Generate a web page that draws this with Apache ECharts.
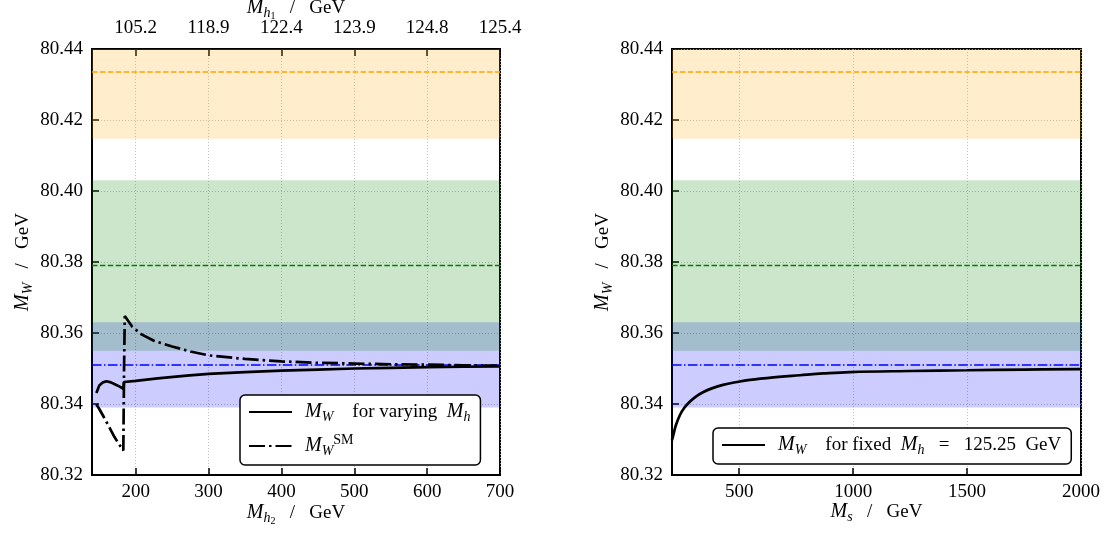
<!DOCTYPE html>
<html>
<head>
<meta charset="utf-8">
<script src="https://cdn.jsdelivr.net/npm/echarts@6/dist/echarts.min.js"></script>
<style>html,body{margin:0;padding:0;background:#fff}#c{width:1106px;height:533px}</style>
</head>
<body>
<div id="c"></div>
<script>
// ---- data ----
const leftXTicks = [200, 300, 400, 500, 600, 700];
const topXTickLabels = ['105.2', '118.9', '122.4', '123.9', '124.8', '125.4'];
const rightXTicks = [500, 1000, 1500, 2000];
const yTicks = [80.32, 80.34, 80.36, 80.38, 80.40, 80.42, 80.44];

const varyX = [146, 150, 155, 160, 166, 172, 178, 183, 184, 200, 230, 270, 300, 350, 400, 450, 500, 550, 600, 650, 700];
const varyY = [80.3431, 80.3452, 80.3461, 80.3464, 80.3461, 80.3455, 80.3449, 80.3443, 80.3462, 80.3465, 80.3472, 80.3480, 80.3485, 80.3490, 80.3494, 80.3497, 80.3500, 80.3502, 80.3504, 80.3505, 80.3506];

const smX = [146, 150, 156, 162, 170, 176, 183, 184, 185, 195, 208, 225, 250, 275, 300, 350, 400, 450, 500, 550, 600, 650, 700];
const smY = [80.3399, 80.3386, 80.3364, 80.3341, 80.3310, 80.3290, 80.3269, 80.3500, 80.3648, 80.3618, 80.3596, 80.3578, 80.3562, 80.3548, 80.3537, 80.3527, 80.3520, 80.3516, 80.3514, 80.3512, 80.3511, 80.3509, 80.3508];

const fixedX = [205, 211, 222, 240, 260, 284, 310, 341, 380, 429, 490, 547, 650, 767, 870, 986, 1250, 1500, 1750, 2000];
const fixedY = [80.3298, 80.3313, 80.3340, 80.3369, 80.3390, 80.3407, 80.3421, 80.3433, 80.3444, 80.3454, 80.3462, 80.3468, 80.3475, 80.3481, 80.3486, 80.3490, 80.3493, 80.3495, 80.3497, 80.3498];

// measurement bands (2 sigma) and central values: SM, ATLAS/avg, CDF
const bandLo = [80.339, 80.355, 80.4147];
const bandHi = [80.363, 80.403, 80.4523];
const bandCentral = [80.351, 80.379, 80.4335];

const LEFT_X_MIN = 140, LEFT_X_MAX = 700;
const RIGHT_X_MIN = 205, RIGHT_X_MAX = 2000;
const Y_MIN = 80.32, Y_MAX = 80.44;

// ---- styling ----
const FONT = 'Liberation Serif';
const FS = 19;
const bandColors = ['rgba(0,0,255,0.2)', 'rgba(0,128,0,0.2)', 'rgba(255,165,0,0.2)'];
const refStyles = [
  {color: '#0000ff', width: 1.5, type: [9.6, 2.4, 1.5, 2.4]},
  {color: '#008000', width: 1.5, type: [5.5, 2.4]},
  {color: '#ffa500', width: 1.5, type: [5.5, 2.4]}
];
const rich = {
  i: {fontFamily: FONT, fontStyle: 'italic', fontSize: 20, color: '#000'},
  r: {fontFamily: FONT, fontSize: FS, color: '#000'},
  sub: {fontFamily: FONT, fontStyle: 'italic', fontSize: 14, color: '#000', padding: [10, 0, 0, 0]},
  sub2: {fontFamily: FONT, fontSize: 10, color: '#000', padding: [16, 0, 0, 0]},
  sup: {fontFamily: FONT, fontSize: 14, color: '#000', padding: [0, 0, 12, 0]}
};
const zip = (xs, ys) => xs.map((x, k) => [x, ys[k]]);

function bandArea() {
  return {
    silent: true,
    data: bandLo.map((lo, k) => [
      {yAxis: lo, itemStyle: {color: bandColors[k]}},
      {yAxis: Math.min(bandHi[k], Y_MAX)}
    ])
  };
}

function refSeries(gi, xmin, xmax) {
  return bandCentral.map((v, k) => ({
    name: 'ref' + gi + k, type: 'line', xAxisIndex: gi, yAxisIndex: gi, silent: true,
    data: [[xmin, v], [xmax, v]], symbol: 'none', lineStyle: refStyles[k], z: 3
  }));
}

const gridLine = {show: true, lineStyle: {color: '#b0b0b0', width: 0.8, type: [1, 2]}};
const tickStyle = {color: '#000', width: 1.5};

function yAxisDef(gridIndex) {
  return {
    type: 'value', gridIndex, min: Y_MIN, max: Y_MAX, interval: 0.02,
    name: '{i|M}{sub|W}{r|   /   GeV}', nameLocation: 'middle', nameGap: 57, nameRotate: 90, nameMoveOverlap: false,
    nameTextStyle: {rich},
    axisLine: {show: true, lineStyle: {color: '#000', width: 2}},
    axisTick: {show: true, inside: true, length: 7, lineStyle: tickStyle},
    axisLabel: {fontFamily: FONT, fontSize: FS, color: '#000', margin: 9, formatter: v => v.toFixed(2)},
    splitLine: gridLine
  };
}

function xAxisDef(gridIndex, min, max, ticks, nameSub) {
  return {
    type: 'value', gridIndex, min, max,
    name: '{i|M}' + nameSub + '{r|   /   GeV}', nameLocation: 'middle', nameGap: 25, nameMoveOverlap: false,
    nameTextStyle: {rich},
    axisLine: {show: true, lineStyle: {color: '#000', width: 2}},
    axisTick: {show: true, inside: true, length: 7, customValues: ticks, lineStyle: tickStyle},
    axisLabel: {fontFamily: FONT, fontSize: FS, color: '#000', margin: 8, customValues: ticks, formatter: v => String(v)},
    splitLine: gridLine
  };
}

const topAxis = {
  type: 'value', gridIndex: 0, position: 'top', min: LEFT_X_MIN, max: LEFT_X_MAX,
  name: '{i|M}{sub|h}{sub2|1}{r|   /   GeV}', nameLocation: 'middle', nameGap: 28, nameMoveOverlap: false,
  nameTextStyle: {rich},
  axisLine: {show: true, lineStyle: {color: '#000', width: 2}},
  axisTick: {show: true, inside: true, length: 7, customValues: leftXTicks, lineStyle: tickStyle},
  axisLabel: {fontFamily: FONT, fontSize: FS, color: '#000', margin: 11, customValues: leftXTicks,
    formatter: v => topXTickLabels[leftXTicks.indexOf(Math.round(v))] || ''},
  splitLine: {show: false}
};

const legendNames = {
  vary: '{i|M}{sub|W}{r|    for varying  }{i|M}{sub|h}',
  sm: '{i|M}{sub|W}{sup|SM}',
  fixed: '{i|M}{sub|W}{r|    for fixed  }{i|M}{sub|h}{r|   =   125.25  GeV}'
};

const legendBase = {
  orient: 'vertical', backgroundColor: '#fff', borderColor: '#000', borderWidth: 1.5, borderRadius: 5,
  itemWidth: 43, itemHeight: 14, itemGap: 9, padding: [7, 10, 7, 8],
  itemStyle: {opacity: 0},
  textStyle: {rich, fontFamily: FONT, fontSize: FS, padding: [0, 0, 0, 8]},
  formatter: n => legendNames[n]
};

const grids = [
  {left: 92, top: 49, width: 408, height: 426},
  {left: 672, top: 49, width: 409, height: 426}
].map(g => Object.assign(g, {show: true, borderColor: '#000', borderWidth: 2, backgroundColor: 'transparent', outerBoundsMode: 'none', containLabel: false}));

const option = {
  animation: false,
  backgroundColor: '#fff',
  grid: grids,
  xAxis: [
    xAxisDef(0, LEFT_X_MIN, LEFT_X_MAX, leftXTicks, '{sub|h}{sub2|2}'),
    xAxisDef(1, RIGHT_X_MIN, RIGHT_X_MAX, rightXTicks, '{sub|s}'),
    topAxis
  ],
  yAxis: [yAxisDef(0), yAxisDef(1)],
  legend: [
    Object.assign({}, legendBase, {left: 240, top: 395, data: ['vary', 'sm']}),
    Object.assign({}, legendBase, {left: 713, top: 428, data: ['fixed']})
  ],
  series: [
    {
      name: 'vary', type: 'line', xAxisIndex: 0, yAxisIndex: 0, data: zip(varyX, varyY),
      symbol: 'none', lineStyle: {color: '#000', width: 2.7}, itemStyle: {color: '#000'}, z: 5,
      markArea: bandArea()
    },
    {
      name: 'sm', type: 'line', xAxisIndex: 0, yAxisIndex: 0, data: zip(smX, smY),
      symbol: 'none', lineStyle: {color: '#000', width: 2.7, type: [16, 4, 2.5, 4]}, itemStyle: {color: '#000'}, z: 5
    },
    {
      name: 'fixed', type: 'line', xAxisIndex: 1, yAxisIndex: 1, data: zip(fixedX, fixedY),
      symbol: 'none', smooth: 0.4,
      lineStyle: {color: '#000', width: 2.7}, itemStyle: {color: '#000'}, z: 5,
      markArea: bandArea()
    }
  ].concat(refSeries(0, LEFT_X_MIN, LEFT_X_MAX), refSeries(1, RIGHT_X_MIN, RIGHT_X_MAX))
};

const chart = echarts.init(document.getElementById('c'), null, {renderer: 'canvas'});
chart.setOption(option);
</script>
</body>
</html>
